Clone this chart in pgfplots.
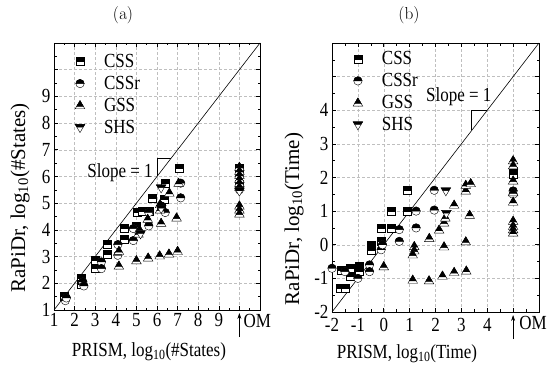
\documentclass[border=0pt]{standalone}
\usepackage[no-math]{fontspec}
\setmainfont{Liberation Serif}[FakeStretch=0.85]
\newfontfamily\ylf{Liberation Serif}
\usepackage{pgfplots}
\pgfplotsset{compat=1.18}
\usetikzlibrary{arrows.meta}

\pgfdeclareplotmark{hsq}{%
  \pgfsetfillcolor{white}%
  \pgfpathrectangle{\pgfqpoint{-\pgfplotmarksize}{-\pgfplotmarksize}}{\pgfqpoint{2\pgfplotmarksize}{2\pgfplotmarksize}}%
  \pgfusepathqfillstroke
  \pgfsetfillcolor{black}%
  \pgfpathrectangle{\pgfqpoint{-\pgfplotmarksize}{0pt}}{\pgfqpoint{2\pgfplotmarksize}{\pgfplotmarksize}}%
  \pgfusepathqfillstroke
}
\pgfdeclareplotmark{hci}{%
  \pgfsetfillcolor{white}%
  \pgfpathcircle{\pgfpointorigin}{1.05\pgfplotmarksize}%
  \pgfusepathqfillstroke
  \pgfsetfillcolor{black}%
  \pgfpathmoveto{\pgfqpoint{1.05\pgfplotmarksize}{0pt}}%
  \pgfpatharc{0}{180}{1.05\pgfplotmarksize}%
  \pgfpathclose
  \pgfusepathqfillstroke
}
\pgfdeclareplotmark{htu}{%
  \pgfsetfillcolor{white}%
  \pgfpathmoveto{\pgfqpoint{0pt}{1.25\pgfplotmarksize}}%
  \pgfpathlineto{\pgfqpoint{-1.2\pgfplotmarksize}{-0.8\pgfplotmarksize}}%
  \pgfpathlineto{\pgfqpoint{1.2\pgfplotmarksize}{-0.8\pgfplotmarksize}}%
  \pgfpathclose
  \pgfusepathqfillstroke
  \pgfsetfillcolor{black}%
  \pgfpathmoveto{\pgfqpoint{0pt}{1.25\pgfplotmarksize}}%
  \pgfpathlineto{\pgfqpoint{-0.85\pgfplotmarksize}{-0.2\pgfplotmarksize}}%
  \pgfpathlineto{\pgfqpoint{0.85\pgfplotmarksize}{-0.2\pgfplotmarksize}}%
  \pgfpathclose
  \pgfusepathqfillstroke
}
\pgfdeclareplotmark{htd}{%
  \pgfsetfillcolor{white}%
  \pgfpathmoveto{\pgfqpoint{0pt}{-1.25\pgfplotmarksize}}%
  \pgfpathlineto{\pgfqpoint{-1.2\pgfplotmarksize}{0.8\pgfplotmarksize}}%
  \pgfpathlineto{\pgfqpoint{1.2\pgfplotmarksize}{0.8\pgfplotmarksize}}%
  \pgfpathclose
  \pgfusepathqfillstroke
  \pgfsetfillcolor{black}%
  \pgfpathmoveto{\pgfqpoint{-1.2\pgfplotmarksize}{0.8\pgfplotmarksize}}%
  \pgfpathlineto{\pgfqpoint{1.2\pgfplotmarksize}{0.8\pgfplotmarksize}}%
  \pgfpathlineto{\pgfqpoint{0.75\pgfplotmarksize}{0.1\pgfplotmarksize}}%
  \pgfpathlineto{\pgfqpoint{-0.75\pgfplotmarksize}{0.1\pgfplotmarksize}}%
  \pgfpathclose
  \pgfusepathqfillstroke
}

\newcommand{\bigf}{\fontsize{20}{23}\selectfont}

\pgfplotsset{
  myax/.style={
    scale only axis,
    anchor=south west,
    tick align=inside,
    tick pos=both,
    minor tick num=1,
    major tick length=4pt,
    minor tick length=2.5pt,
    grid=major,
    major grid style={densely dashed, gray!50, line width=0.5pt},
    tick style={black, line width=0.6pt},
    axis line style={line width=0.9pt},
    every tick label/.append style={font=\bigf},
    xlabel style={font=\bigf},
    ylabel style={font=\ylf\fontsize{21}{24}\selectfont},
    clip=false,
    legend style={draw=none, fill=none, font=\bigf, anchor=north west,
      inner sep=0pt, outer sep=0pt, row sep=0pt,
      nodes={inner sep=2pt, text height=15pt, text depth=3pt}},
    legend cell align=left,
    legend image code/.code={%
      \path[draw=none, fill=none] (-5pt,0pt) -- (22pt,0pt);
      \draw[##1] plot coordinates {(0pt,0pt)};
    },
  },
  cs/.style={only marks, black, mark=hsq, mark size=4pt},
  csr/.style={only marks, black, mark=hci, mark size=4pt},
  gs/.style={only marks, black, mark=htu, mark size=4pt},
  sh/.style={only marks, black, mark=htd, mark size=4pt},
}

\begin{document}
\begin{tikzpicture}
\useasboundingbox (0pt,0pt) rectangle (548pt,369pt);

% ---------------- (a) ----------------
\begin{axis}[myax, at={(54pt,59pt)}, width=206pt, height=267pt,
  xmin=1, xmax=11, ymin=1, ymax=11,
  xtick={1,...,11}, xticklabels={1,2,3,4,5,6,7,8,9,{},{}},
  ytick={1,...,11}, yticklabels={1,2,3,4,5,6,7,8,9,{},{}},
  xlabel={PRISM, log\textsubscript{10}(\#States)},
  ylabel={RaPiDr, log\textsubscript{10}(\#States)},
  xlabel style={at={([yshift=-42pt]axis description cs:0.461,0)}, anchor=center},
  ylabel style={at={([xshift=-34pt]axis description cs:0,0.42)}, anchor=center},
  legend style={at={([yshift=-7.6pt]axis description cs:0.102,1)}},
]
\addplot[black, no marks, line width=0.6pt, forget plot] coordinates {(1,1) (11,11)};
\addplot[cs] coordinates {
 (1.5,1.5) (2.3,2.2) (2.3,1.95) (3.0,2.85) (3.0,2.55) (3.6,3.45) (3.6,3.1)
 (4.4,4.05) (4.4,3.65) (5.05,4.65) (5.0,4.15) (5.75,5.2) (5.6,4.7) (5.3,4.7)
 (6.4,5.75) (6.35,5.15) (7.07,6.3) (6.2,4.85) (10,6.3) (10,5.7)};
\addlegendentry{CSS}
\addplot[csr] coordinates {
 (1.55,1.35) (1.6,1.45) (2.4,2.05) (2.45,1.9) (3.3,2.8) (3.3,2.55) (4.1,3.45) (4.1,3.05)
 (4.85,4.05) (4.85,3.6) (5.6,4.15) (5.6,4.65) (6.4,4.65) (6.2,4.9)
 (7.15,5.2) (7.15,5.75) (10,6.0) (10,5.5)};
\addlegendentry{CSSr}
\addplot[gs] coordinates {
 (4.15,3.2) (4.15,2.65) (5.0,2.85) (5.57,2.95) (6.13,3.03) (6.58,3.1) (7.0,3.2)
 (5.15,4.0) (5.1,3.85) (5.55,4.4) (6.2,4.25) (6.95,4.45) (6.15,4.95) (6.15,4.75)
 (6.6,5.38) (7.05,5.75)
 (10,6.35) (10,6.2) (10,6.05) (10,5.9) (10,5.75) (10,5.6) (10,4.9) (10,4.75) (10,4.6)};
\addlegendentry{GSS}
\addplot[sh] coordinates {
 (6.2,5.57) (6.2,4.8) (5.2,3.85) (10,5.45)};
\addlegendentry{SHS}
\draw[line width=0.6pt] (axis cs:6,6) -- (axis cs:6,6.7) -- (axis cs:6.7,6.7);
\node[anchor=east, font=\bigf, inner sep=1pt] at (axis cs:5.85,6.15) {Slope = 1};
\draw[-{Stealth[length=6pt,width=4pt]}, line width=0.6pt] ([yshift=-27pt]axis cs:10,1) -- ([yshift=-3pt]axis cs:10,1);
\node[anchor=west, font=\bigf, inner sep=0pt] at ([xshift=4pt,yshift=-11pt]axis cs:10,1) {OM};
\node[font=\fontsize{19}{22}\selectfont] at ([yshift=28pt]axis description cs:0.335,1) {$(\mathrm{a})$};
\end{axis}

% ---------------- (b) ----------------
\begin{axis}[myax, at={(332pt,57pt)}, width=207pt, height=269pt,
  xmin=-2, xmax=6, ymin=-2, ymax=6,
  xtick={-2,...,6}, xticklabels={-2,-1,0,1,2,3,4,{},{}},
  ytick={-2,...,6}, yticklabels={-2,-1,0,1,2,3,4,{},{}},
  xticklabel style={yshift=-3pt},
  xlabel={PRISM, log\textsubscript{10}(Time)},
  ylabel={RaPiDr, log\textsubscript{10}(Time)},
  xlabel style={at={([yshift=-42pt]axis description cs:0.362,0)}, anchor=center},
  ylabel style={at={([xshift=-38pt]axis description cs:0,0.346)}, anchor=center},
  legend style={at={([yshift=-4.9pt]axis description cs:0.101,1)}},
]
\addplot[black, no marks, line width=0.6pt, forget plot] coordinates {(-2,-2) (6,6)};
\addplot[cs] coordinates {
 (-1.7,-1.28) (-1.5,-1.28) (-1.65,-0.75) (-1.3,-0.7) (-1.3,-0.95) (-0.95,-0.65) (-0.95,-0.8)
 (-0.5,0.0) (-0.5,-0.15) (-0.1,0.1) (-0.1,0.5) (0.28,1.0) (0.28,0.5) (0.92,1.0) (0.92,1.62)
 (5,2.2) (5,2.1)};
\addlegendentry{CSS}
\addplot[csr] coordinates {
 (-2.0,-0.7) (-1.5,-0.8) (-1.0,-1.0) (-0.55,-0.6) (-0.55,-0.8) (-0.1,-0.15) (-0.05,0.0)
 (0.6,0.45) (0.6,0.1) (1.25,1.0) (1.25,0.5) (1.95,1.62) (1.95,1.03) (5,1.6) (5,1.5)};
\addlegendentry{CSSr}
\addplot[gs] coordinates {
 (0.0,-0.65) (1.18,-0.05) (1.18,-0.18) (1.12,-0.3) (1.12,-1.05) (1.75,-1.07) (2.27,-0.93)
 (2.72,-0.82) (3.19,-0.78) (1.76,0.19) (2.14,0.44) (2.33,0.65) (2.38,0.8) (2.33,-0.06)
 (3.17,0.09) (3.32,0.88) (2.72,1.18) (3.17,1.6) (3.17,1.77) (3.36,1.82)
 (5,2.5) (5,2.35) (5,1.9) (5,1.55) (5,1.27) (5,0.7) (5,0.55) (5,0.45) (5,0.35)};
\addlegendentry{GSS}
\addplot[sh] coordinates {(2.4,1.6) (2.42,0.93)};
\addlegendentry{SHS}
\draw[line width=0.6pt] (axis cs:3.4,3.4) -- (axis cs:3.4,4) -- (axis cs:4,4);
\node[font=\bigf, inner sep=1pt] at (axis cs:2.9,4.4) {Slope = 1};
\draw[-{Stealth[length=6pt,width=4pt]}, line width=0.6pt] ([yshift=-27pt]axis cs:5,-2) -- ([yshift=-3pt]axis cs:5,-2);
\node[anchor=west, font=\bigf, inner sep=0pt] at ([xshift=6pt,yshift=-11pt]axis cs:5,-2) {OM};
\node[font=\fontsize{19}{22}\selectfont] at ([yshift=28pt]axis description cs:0.372,1) {$(\mathrm{b})$};
\end{axis}
\end{tikzpicture}
\end{document}
